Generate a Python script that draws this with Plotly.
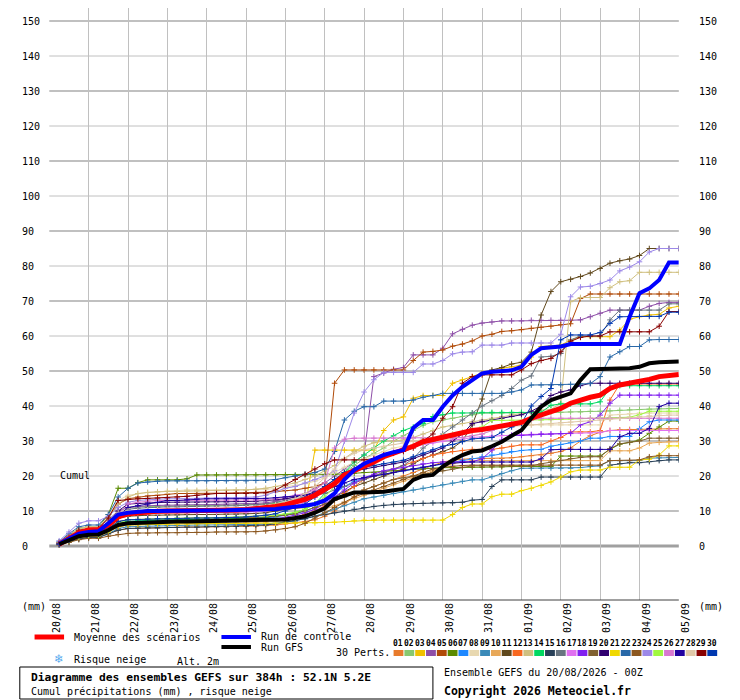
import plotly.graph_objects as go

# Diagramme des ensembles GEFS - cumul precipitations (mm), pas de 6h sur 384h
hours = list(range(6, 385, 6))

day_ticks = list(range(0, 385, 24))
dates = ["20/08", "21/08", "22/08", "23/08", "24/08", "25/08", "26/08", "27/08", "28/08",
         "29/08", "30/08", "31/08", "01/09", "02/09", "03/09", "04/09", "05/09"]
y_labels = [0, 10, 20, 30, 40, 50, 60, 70, 80, 90, 100, 110, 120, 130, 140, 150]

# moyenne des scenarios
mean_run = [0.5, 2, 3.8, 4.6, 4.7, 6, 8.3, 9.2,
            9.5, 9.7, 9.9, 10, 10, 10.1, 10.1, 10.2,
            10.2, 10.3, 10.3, 10.4, 10.6, 10.9, 11.3, 11.8,
            12.5, 13.3, 14.5, 16, 17.8, 20.3, 21.5, 22.5,
            24, 25.5, 26.5, 27.4, 28.5, 29.8, 30.5, 31.2,
            31.8, 32.5, 33, 33.3, 33.8, 34.3, 34.8, 35.3,
            36.5, 37.5, 38.4, 39.3, 40.8, 41.8, 42.5, 43.1,
            45, 46, 46.5, 46.9, 47.6, 48.4, 48.8, 49]

# run de controle
control_run = [0.6, 2, 3.5, 4, 4.2, 6.5, 9, 9.5,
               9.8, 10, 10, 10, 10.1, 10.1, 10.2, 10.2,
               10.2, 10.2, 10.3, 10.3, 10.4, 10.5, 10.6, 11,
               11.2, 11.5, 12, 13, 15, 19, 21.7, 23.5,
               24.8, 26, 26.8, 27.4, 33.7, 36, 36, 39.8,
               43, 45.5, 47.4, 49.3, 49.8, 50, 50.2, 51.2,
               54.6, 56.5, 56.8, 57, 57.7, 57.7, 57.7, 57.7,
               57.7, 57.7, 65.5, 72.2, 73.6, 76, 81, 81]

# run GFS
gfs_run = [0.5, 1.5, 2.8, 3.2, 3.3, 4.5, 6, 6.5,
           6.6, 6.8, 7, 7, 7, 7, 7, 7.1,
           7.1, 7.2, 7.3, 7.4, 7.4, 7.4, 7.5, 7.6,
           8, 8.5, 9.5, 10.8, 13.4, 14.5, 15.3, 15.3,
           15.3, 15.5, 15.9, 16.3, 18.9, 20, 20.3, 22.7,
           24.5, 26, 27, 27.3, 28.5, 29.8, 31.5, 33.1,
           36.5, 39.8, 41.7, 42.6, 43.6, 47.4, 50.5, 50.6,
           50.7, 50.8, 50.8, 51.2, 52.2, 52.5, 52.7, 52.7]

# 30 perturbations
m01 = [0.5, 1.3, 2.2, 2.6, 2.6, 3.5, 4.5, 5,
       5.1, 5.2, 5.2, 5.3, 5.3, 5.4, 5.4, 5.5,
       5.5, 5.5, 5.6, 5.6, 5.7, 5.8, 6, 6.3,
       6.6, 7, 7.5, 8.5, 10, 12, 14, 16,
       17, 18, 19, 20, 21, 22, 23, 24,
       24.5, 24.8, 25, 25, 25, 25, 25.2, 25.5,
       25.8, 26, 26.5, 27, 28, 30, 31.5, 32.5,
       33, 33.2, 33.3, 33.4, 33.5, 33.5, 33.5, 33.5]
m02 = [0.8, 2.2, 4, 4.5, 4.5, 7, 10, 11,
       11.2, 11.3, 11.4, 11.5, 11.5, 11.5, 11.6, 11.6,
       11.6, 11.7, 11.7, 11.8, 11.9, 12, 12.2, 12.5,
       13, 13.5, 14.5, 16, 18.5, 21, 23, 25,
       26.5, 28, 30, 31.5, 33, 34.5, 35.5, 36,
       36.5, 37, 37.5, 38, 38, 38, 38, 38,
       38, 38, 38.2, 38.2, 38.3, 38.3, 38.5, 38.5,
       38.6, 38.8, 38.9, 39, 39.1, 39.2, 39.3, 39.3]
m03 = [0.7, 2, 3.5, 4, 4, 6, 8.5, 9,
       9.2, 9.3, 9.4, 9.5, 9.5, 9.5, 9.6, 9.6,
       9.6, 9.7, 9.7, 9.8, 9.8, 10, 10.2, 10.5,
       10.8, 11, 27.4, 27.4, 27.4, 27.4, 27.4, 27.4,
       27.4, 33, 36, 36.9, 42.2, 43, 43, 43,
       46.5, 47.5, 48.4, 49.4, 50, 50.8, 51.2, 51.7,
       54, 57, 57.2, 57.4, 58.8, 59.8, 59.8, 59.8,
       59.8, 61.7, 64.8, 65.5, 66, 66.2, 68, 68.5]
m04 = [1, 3, 5, 5.5, 5.6, 7.5, 10, 11,
       11.3, 11.5, 11.6, 11.7, 11.7, 11.8, 11.8, 11.8,
       11.9, 11.9, 12, 12, 12.1, 12.3, 12.8, 13.5,
       14, 15, 16.5, 18, 20, 22, 24, 26,
       48.4, 49.4, 50.5, 51, 54.6, 54.6, 54.6, 56.5,
       60.6, 61.9, 63.1, 63.7, 64, 64.3, 64.3, 64.3,
       64.5, 64.5, 64.5, 64.5, 64.5, 64.6, 65.5, 66.5,
       67.4, 67.4, 67.4, 67.4, 68.5, 69.3, 69.6, 69.6]
m05 = [1, 3, 5, 5.5, 5.5, 8, 12, 13.5,
       14, 14.3, 14.5, 14.8, 15, 15, 15, 15,
       15, 15, 15.1, 15.2, 15.3, 15.3, 15.5, 15.8,
       16, 16.5, 17, 18, 46.5, 50.3, 50.3, 50.3,
       50.3, 50.3, 50.3, 50.3, 53, 55.4, 55.6, 56,
       57.1, 57.7, 58.6, 60, 60.5, 61.3, 61.5, 61.8,
       62.2, 62.5, 62.8, 63.2, 63.5, 70.7, 72, 72,
       72, 72, 72, 72, 72, 72, 72, 72]
m06 = [1, 3, 5, 5.5, 5.5, 9, 16.5, 16.5,
       18.1, 18.9, 18.9, 18.9, 18.9, 19.2, 20.3, 20.3,
       20.3, 20.3, 20.3, 20.3, 20.3, 20.3, 20.3, 20.3,
       20.3, 20.3, 20.3, 20.3, 20.5, 20.6, 20.8, 21,
       21, 21.2, 21.5, 21.8, 22, 22, 22.2, 22.4,
       22.4, 22.4, 22.5, 22.5, 22.6, 22.6, 22.7, 22.7,
       22.7, 22.7, 22.7, 25.7, 25.7, 25.7, 25.7, 25.7,
       27.6, 29.1, 29.6, 30.3, 32.2, 34, 35.7, 35.7]
m07 = [0.5, 1.5, 2.5, 3, 3, 4.5, 6, 7,
       7.2, 7.3, 7.4, 7.5, 7.5, 7.6, 7.6, 7.6,
       7.6, 7.7, 7.7, 7.8, 7.9, 8, 8.3, 8.8,
       9.2, 10, 11, 13, 15, 17, 18.5, 19.5,
       20, 20.5, 21, 21.5, 22, 22.5, 23, 23.5,
       24, 24.5, 25, 25.5, 26, 26.5, 27, 27.3,
       27.5, 27.6, 28.5, 29, 29.5, 30, 30.8, 30.8,
       31.3, 31.3, 31.3, 33.5, 35.5, 36, 36, 36]
m08 = [1, 3, 5, 5.5, 5.5, 8.5, 13, 14.5,
       15, 15.3, 15.5, 15.7, 15.8, 16, 16, 16,
       16, 16, 16, 16, 16.1, 16.2, 16.4, 16.8,
       17.2, 17.8, 18.5, 19.5, 21, 22.5, 24, 25,
       26, 27, 28, 28.5, 29, 29.5, 30, 30.3,
       30.6, 31, 31.5, 32, 33, 33.8, 34.2, 34.6,
       34.6, 34.6, 34.6, 34.6, 34.6, 34.6, 34.6, 34.6,
       37.4, 37.6, 37.8, 38, 38, 38, 38, 38]
m09 = [0.4, 1.2, 2, 2.5, 2.5, 3.5, 5, 5.5,
       5.6, 5.7, 5.8, 5.8, 5.9, 5.9, 6, 6,
       6, 6, 6.1, 6.1, 6.2, 6.3, 6.5, 6.8,
       7.2, 7.8, 8.5, 9.5, 10.5, 11.5, 12.5, 13.5,
       14, 14.5, 15, 15.5, 16, 16.5, 17, 17.5,
       18, 18.5, 18.9, 18.9, 19.8, 20.7, 21.5, 22.2,
       22.2, 22.2, 22.2, 22.2, 22.2, 22.4, 22.7, 22.9,
       24.4, 24.4, 24.4, 24.4, 25.1, 25.2, 25.3, 25.3]
m10 = [0.5, 1.4, 2.3, 2.8, 2.8, 4, 5.5, 6,
       6.1, 6.2, 6.2, 6.3, 6.3, 6.4, 6.4, 6.5,
       6.5, 6.5, 6.6, 6.6, 6.7, 6.8, 7, 7.3,
       7.8, 8.5, 9.5, 10.5, 11.5, 12.5, 13.5, 14.5,
       15.5, 16.5, 17.5, 18.5, 19.5, 20.5, 21.5, 22.5,
       23.5, 24, 24.4, 24.4, 24.4, 24.4, 24.4, 24.4,
       24.4, 24.4, 24.4, 24.4, 24.4, 24.4, 24.4, 24.4,
       27.2, 27.2, 27.2, 28, 29.4, 29.6, 29.8, 29.8]
m11 = [0.8, 2.5, 4, 4.5, 4.5, 6, 8, 8.5,
       8.7, 8.8, 8.8, 8.9, 8.9, 9, 9, 9,
       9, 9.1, 9.1, 9.2, 9.3, 9.5, 10, 10.5,
       11, 11.5, 12, 13, 14, 15.5, 17, 18,
       19, 20, 21, 22, 23.5, 25, 26, 27,
       28, 30, 34.6, 42, 50.3, 51, 52, 52.5,
       55.4, 66, 72.7, 75.5, 76.2, 77, 78, 79.3,
       80.8, 81.5, 82, 83, 85, 85, 85, 85]
m12 = [0.5, 1.5, 2.5, 3, 3, 4.5, 6, 6.5,
       6.6, 6.7, 6.8, 6.8, 6.9, 6.9, 7, 7,
       7, 7, 7, 7, 7.1, 7.2, 7.4, 7.8,
       8.2, 9, 10, 11.5, 13, 15, 17, 19,
       20, 21, 22, 23, 24, 25, 26, 26.5,
       27, 27.3, 27.6, 27.6, 27.6, 28, 28.5, 28.9,
       28.9, 28.9, 30, 31, 32.6, 32.6, 32.6, 33,
       41.7, 46.3, 46.3, 46.3, 46.3, 46.3, 46.3, 46.3]
m13 = [1, 3, 5, 5.5, 5.5, 8, 12, 14,
       15, 15.3, 15.5, 15.6, 15.6, 15.7, 15.7, 15.8,
       15.8, 15.9, 16, 16, 16.2, 16.5, 17, 17.5,
       18, 19, 20, 21.5, 23, 25, 27, 28.5,
       29.5, 30, 30, 30.3, 31, 32, 33, 34,
       34.5, 35, 35.5, 36, 36.5, 37, 37.5, 38,
       38.5, 38.8, 39, 40.8, 69.8, 71, 71, 71,
       73.8, 75.5, 75.8, 78.2, 78.2, 78.2, 78.2, 78.2]
m14 = [0.6, 1.8, 3, 3.5, 3.5, 5, 6.5, 7,
       7.2, 7.3, 7.4, 7.5, 7.5, 7.6, 7.6, 7.7,
       7.7, 7.8, 7.8, 7.9, 8, 8.2, 8.5, 9,
       9.5, 10.5, 12, 15, 18, 21, 24, 26,
       28, 30, 31.5, 33, 34, 35, 37, 37.5,
       38, 38, 38, 38.2, 38.2, 38.2, 38.2, 38.2,
       38.2, 38.2, 40.2, 40.6, 40.6, 40.6, 40.6, 41.2,
       45.1, 45.8, 45.8, 45.8, 45.8, 45.8, 45.8, 45.8]
m15 = [0.4, 1.2, 2, 2.4, 2.4, 3.5, 4.5, 5,
       5.1, 5.2, 5.2, 5.3, 5.3, 5.4, 5.4, 5.5,
       5.5, 5.5, 5.6, 5.7, 5.8, 6, 6.3, 6.8,
       7.2, 7.8, 8.5, 9, 9.5, 10, 10.5, 11,
       11.3, 11.6, 11.9, 12, 12.1, 12.2, 12.3, 12.3,
       12.3, 12.5, 13.1, 13.3, 17, 18.9, 18.9, 18.9,
       18.9, 19.7, 19.7, 19.7, 19.7, 19.7, 19.7, 19.7,
       23.1, 23.5, 23.8, 23.8, 24.1, 24.4, 24.6, 24.6]
m16 = [0.5, 1.5, 3, 3.5, 3.5, 5.5, 8.5, 10.5,
       10.8, 11, 11.1, 11.2, 11.2, 11.3, 11.3, 11.4,
       11.4, 11.5, 11.5, 11.6, 11.7, 12, 12.5, 13,
       13.5, 14, 14.5, 15, 16, 17, 18, 19,
       20, 21, 22, 23, 25, 28, 30, 32,
       34, 36, 38, 40, 41.5, 43, 45, 47.4,
       48.6, 54, 54.2, 55, 58.9, 60, 60, 60,
       64.6, 67.4, 67.4, 67.4, 67.4, 67.4, 69.2, 69.2]
m17 = [0.6, 1.8, 3, 3.5, 3.5, 5.5, 8, 9,
       9.2, 9.3, 9.4, 9.5, 9.5, 9.5, 9.5, 9.6,
       9.6, 9.6, 9.7, 9.7, 9.8, 10, 10.5, 11,
       11.5, 12.5, 14, 16, 18, 20, 22, 24,
       25, 26, 27, 28, 28.5, 29, 29.5, 30,
       30.3, 30.5, 31, 31.2, 31.4, 31.6, 31.7, 31.8,
       31.9, 32, 32, 32, 32.1, 32.2, 32.3, 32.4,
       33, 33, 33, 33, 33, 33, 33, 33]
m18 = [0.5, 1.5, 2.5, 3, 3, 4.5, 6, 6.5,
       6.6, 6.7, 6.8, 6.8, 6.9, 6.9, 7, 7,
       7, 7.1, 7.1, 7.2, 7.3, 7.5, 7.8, 8.2,
       8.8, 9.5, 10.5, 12, 14, 16, 18, 19.5,
       20.5, 21.5, 22, 22.5, 23, 23.5, 23.8, 24,
       24, 24.1, 24.1, 24.9, 27.4, 30.3, 31.6, 31.6,
       31.8, 32, 32, 32.1, 32.2, 34.6, 35.5, 37.4,
       40.8, 43.1, 43.1, 43.1, 43.1, 43.1, 43.1, 43.1]
m19 = [0.6, 1.7, 2.8, 3.3, 3.3, 5, 7, 7.5,
       7.6, 7.7, 7.8, 7.8, 7.9, 7.9, 8, 8,
       8, 8, 8.1, 8.1, 8.2, 8.3, 8.5, 8.8,
       9.2, 10, 11, 12, 13, 14, 15, 16,
       17, 18, 19, 19.5, 20, 20.5, 21, 21.5,
       22, 22.5, 22.9, 22.9, 22.9, 22.9, 22.9, 22.9,
       22.9, 23.5, 24, 24.5, 25, 25.3, 25.5, 25.5,
       27.8, 29.2, 29.6, 30, 30.8, 30.8, 30.8, 30.8]
m20 = [0.7, 2, 3.5, 4, 4, 6.5, 10, 12,
       12.2, 12.3, 12.4, 12.5, 12.5, 12.5, 12.5, 12.6,
       12.6, 12.6, 12.7, 12.7, 12.8, 12.9, 13.2, 13.5,
       14, 14.5, 15.5, 17, 19, 20.5, 21.5, 22,
       22.5, 23, 23.5, 24, 25, 26, 27, 28,
       30, 32, 35, 35.5, 36, 36.5, 37, 37.5,
       38.5, 40, 43, 44, 44.6, 45.8, 46.5, 46.5,
       46.5, 46.5, 46.5, 46.5, 46.5, 46.5, 46.5, 46.5]
m21 = [0.5, 1.4, 2.4, 2.9, 2.9, 4, 5.5, 6,
       6.1, 6.2, 6.2, 6.3, 6.3, 6.3, 6.4, 6.4,
       6.4, 6.4, 6.5, 6.5, 6.5, 6.5, 6.5, 6.5,
       6.5, 6.5, 6.6, 6.7, 6.8, 7, 7.2, 7.4,
       7.4, 7.4, 7.4, 7.4, 7.4, 7.4, 7.4, 7.4,
       9, 11, 12, 12, 14.1, 14.8, 14.8, 15.8,
       16.5, 17.3, 18.3, 19.7, 21.2, 21.7, 21.7, 21.7,
       22.5, 22.5, 22.5, 24.6, 24.8, 26, 28.6, 28.6]
m22 = [1.2, 3.5, 5.5, 6, 6, 9, 14, 16.5,
       18, 18.3, 18.5, 18.6, 18.6, 18.6, 18.6, 18.6,
       18.6, 18.6, 18.6, 18.6, 18.7, 18.8, 19, 19.5,
       20, 20.5, 21, 22, 27, 36, 38.5, 39.8,
       39.8, 41.4, 41.4, 41.4, 41.7, 42.5, 43, 43.6,
       43.6, 43.6, 43.6, 43.6, 43.6, 43.6, 44, 44.6,
       46, 46, 46, 46, 46.2, 46.3, 46.4, 48.4,
       54, 55.5, 57, 57, 58.9, 59, 59, 59]
m23 = [0.3, 1, 1.8, 2.2, 2.2, 2.8, 3.3, 3.6,
       3.7, 3.7, 3.8, 3.8, 3.8, 3.9, 3.9, 3.9,
       4, 4, 4, 4, 4.1, 4.3, 4.6, 5,
       5.5, 6.5, 8, 9.5, 11, 12.5, 14, 15,
       16, 17, 18, 19, 20, 21, 22, 22.5,
       22.8, 23, 23.1, 23.1, 23.1, 23.1, 23.1, 23.1,
       23.1, 23.1, 23.1, 23.1, 23.1, 23.1, 23.1, 23.1,
       24.4, 24.4, 24.4, 24.6, 25.5, 25.8, 25.8, 25.8]
m24 = [1.5, 4, 6.5, 7.2, 7.2, 8.5, 11, 12.5,
       13, 13.2, 13.4, 13.5, 13.5, 13.6, 13.6, 13.7,
       13.7, 13.8, 13.8, 13.9, 14, 14.5, 15.5, 16.5,
       17, 18, 19, 20, 21.5, 30, 38, 44,
       47.5, 49.6, 49.6, 49.6, 49.6, 52, 52, 53,
       54.9, 55.4, 55.5, 57.4, 57.4, 57.4, 58, 58,
       58, 58, 58, 60.5, 71.2, 74, 74.2, 75,
       76, 78.6, 79.7, 81.2, 84, 85, 85, 85]
m25 = [0.5, 1.5, 2.5, 3, 3, 4.5, 6.5, 7.5,
       7.6, 7.7, 7.8, 7.9, 8, 8, 8, 8.1,
       8.1, 8.2, 8.2, 8.3, 8.4, 8.5, 8.8, 9.2,
       9.6, 10.5, 12, 14, 17, 20, 22, 23.5,
       24.5, 25.5, 26.5, 27.5, 28.5, 29.5, 30.5, 31.5,
       32, 32.5, 33, 34, 35.9, 35.9, 35.9, 35.9,
       35.9, 36, 36.1, 36.2, 36.3, 36.4, 36.5, 36.5,
       36.5, 36.6, 36.8, 37.5, 38.5, 38.5, 38.5, 38.5]
m26 = [0.7, 2, 3.5, 4, 4, 6, 9, 12,
       12.5, 12.8, 13, 13, 13, 13, 13, 13,
       13, 13, 13, 13, 13.1, 13.2, 13.5, 14,
       14.5, 15, 16, 18, 28, 30.5, 30.8, 30.8,
       30.8, 30.8, 30.8, 30.8, 30.8, 30.8, 30.8, 30.8,
       30.8, 31, 31.5, 32, 33, 34, 35, 35.5,
       36, 36.5, 36.5, 36.5, 36.5, 36.5, 36.5, 36.5,
       36.5, 36.5, 36.5, 36.5, 36.5, 36.5, 36.5, 36.5]
m27 = [0.5, 1.6, 3, 3.5, 3.5, 5.5, 8.5, 11,
       11.5, 12, 12.5, 13, 13, 13.2, 13.4, 13.5,
       13.5, 13.5, 13.5, 13.5, 13.5, 13.6, 13.8, 14,
       14.2, 14.5, 15, 16, 17, 18, 19, 19.5,
       20, 20.5, 21, 21.5, 22, 22.5, 23, 23.5,
       23.7, 23.9, 24, 24, 24, 24, 24, 24,
       24, 24.9, 27.5, 27.6, 27.6, 27.6, 27.6, 27.6,
       27.6, 31.2, 32.2, 32.2, 33.6, 39.8, 40.8, 40.8]
m28 = [0.8, 2.5, 4, 4.8, 4.8, 7, 9.5, 10,
       10.2, 10.3, 10.4, 10.5, 10.5, 10.6, 10.6, 10.7,
       10.7, 10.8, 10.8, 10.9, 11, 11.3, 11.8, 12.5,
       13.5, 15, 17, 19.5, 22, 25, 26.5, 27.5,
       28, 28.5, 29, 29.5, 30, 30.5, 31, 31.5,
       32, 32.5, 33, 33.5, 33.8, 34, 34.2, 34.4,
       34.6, 34.8, 35, 35.2, 35.4, 35.6, 35.8, 36,
       36.2, 36.5, 36.8, 37, 37.2, 37.4, 37.4, 37.4]
m29 = [0.8, 2.5, 4.5, 5, 5, 8, 13, 13.3,
       13.5, 13.6, 13.7, 13.8, 14, 14.2, 14.5, 14.8,
       15, 15, 15, 15, 15, 15.2, 16, 17.4,
       19, 20.5, 22, 23.5, 24.6, 24.6, 24.6, 24.6,
       25, 26, 26.5, 27, 28, 30, 32, 36.5,
       39.8, 46.5, 48.4, 48.9, 48.9, 48.9, 48.9, 50.3,
       52.1, 53, 53.6, 55.5, 58.5, 59.6, 60, 60,
       61.2, 61.2, 61.2, 61.2, 61.2, 62.8, 67, 67]
m30 = [0.6, 1.8, 3, 3.5, 3.5, 5, 7, 7.5,
       7.6, 7.7, 7.8, 7.8, 7.9, 7.9, 8, 8,
       8, 8.1, 8.2, 8.3, 8.5, 8.8, 9.2, 10,
       11, 12, 14, 17, 19, 21, 22, 22.5,
       23, 23.5, 24, 24.5, 25.5, 26.5, 27.5, 28.5,
       29, 29.8, 30.6, 30.8, 31, 32.5, 34, 35,
       40, 42.7, 45, 58.9, 60.3, 60.3, 60.3, 61,
       63.6, 65.5, 65.6, 65.6, 65.6, 65.6, 66.8, 66.8]

pert_colors = ["#e87b2c", "#88c86e", "#f0c000", "#8e4fa8", "#b04a08", "#5a8a00",
               "#1e88ff", "#e8d8b0", "#3a8ab8", "#e8a858", "#60481c", "#f86820",
               "#d0c080", "#00d860", "#284058", "#687480", "#e070f0", "#8020f0",
               "#806030", "#300070", "#f0d800", "#2868a8", "#8c5820", "#9c88e8",
               "#a0f840", "#d878d0", "#2000a0", "#e0c8a8", "#880000", "#0038b0"]

members = [m01, m02, m03, m04, m05, m06, m07, m08, m09, m10,
           m11, m12, m13, m14, m15, m16, m17, m18, m19, m20,
           m21, m22, m23, m24, m25, m26, m27, m28, m29, m30]

# la page a une marge de 8px : on dessine sur 732x692
OFF = 8
W = 740 - OFF
H = 700 - OFF
FONT = "DejaVu Sans Mono"


# pixel (image de reference) -> paper
def px(x):
    return (x - OFF) / W


def py(y):
    return 1 - (y - OFF) / H


fig = go.Figure()

# perturbations
for k in range(len(members)):
    c = pert_colors[k]
    fig.add_trace(go.Scatter(x=hours, y=members[k], mode="lines+markers",
                             line=dict(color=c, width=1),
                             marker=dict(symbol="cross-thin", size=4, line=dict(color=c, width=1)),
                             hoverinfo="skip"))

fig.add_trace(go.Scatter(x=hours, y=mean_run, mode="lines", line=dict(color="#ff0000", width=5)))
fig.add_trace(go.Scatter(x=hours, y=control_run, mode="lines", line=dict(color="#0000ff", width=4)))
fig.add_trace(go.Scatter(x=hours, y=gfs_run, mode="lines", line=dict(color="#000000", width=4)))

shapes = []
# grille horizontale (traits epais aux dizaines impaires)
for v in y_labels[1:]:
    w = 2 if (v // 10) % 2 == 1 else 1
    shapes.append(dict(type="line", layer="below", xref="paper", yref="y",
                       x0=px(50), x1=px(690), y0=v, y1=v,
                       line=dict(color="#c0c0c0", width=w)))
shapes.append(dict(type="line", layer="below", xref="paper", yref="y",
                   x0=px(50), x1=px(690), y0=0, y1=0,
                   line=dict(color="#a0a0a0", width=3)))
shapes.append(dict(type="line", xref="paper", yref="paper",
                   x0=px(50), x1=px(690), y0=py(600), y1=py(600),
                   line=dict(color="#404040", width=1)))

# legende
shapes.append(dict(type="line", xref="paper", yref="paper", x0=px(35), x1=px(65),
                   y0=py(637), y1=py(637), line=dict(color="#ff0000", width=5)))
shapes.append(dict(type="line", xref="paper", yref="paper", x0=px(225), x1=px(255),
                   y0=py(637), y1=py(637), line=dict(color="#0000ff", width=4)))
shapes.append(dict(type="line", xref="paper", yref="paper", x0=px(225), x1=px(255),
                   y0=py(647), y1=py(647), line=dict(color="#000000", width=4)))
for k in range(30):
    x0 = 400 + 11 * k
    shapes.append(dict(type="rect", xref="paper", yref="paper",
                       x0=px(x0), x1=px(x0 + 10), y0=py(656), y1=py(650),
                       line=dict(width=0), fillcolor=pert_colors[k]))
shapes.append(dict(type="rect", xref="paper", yref="paper",
                   x0=px(20), x1=px(440), y0=py(699), y1=py(667),
                   line=dict(color="black", width=1)))

annotations = []
for v in y_labels:
    annotations.append(dict(x=px(20), y=v, xref="paper", yref="y", text=str(v),
                            showarrow=False, xanchor="left", yanchor="middle",
                            font=dict(family=FONT, size=10, color="black")))
    annotations.append(dict(x=px(708), y=v, xref="paper", yref="y", text=str(v),
                            showarrow=False, xanchor="left", yanchor="middle",
                            font=dict(family=FONT, size=10, color="black")))


def label(x, y, text, size=10, anchor="left", color="black"):
    annotations.append(dict(x=px(x), y=py(y), xref="paper", yref="paper", text=text,
                            showarrow=False, xanchor=anchor, yanchor="middle",
                            font=dict(family=FONT, size=size, color=color)))


label(20, 606, "(mm)")
label(708, 606, "(mm)")
label(59, 475, "Cumul")
label(73, 637, "Moyenne des scénarios")
label(263, 636, "Run de contrôle")
label(263, 647, "Run GFS")
label(53, 658, "❄", size=13, color="#55aaee")
label(73, 659, "Risque neige")
label(178, 661, "Alt. 2m")
label(339, 652, "30 Perts.")
for k in range(30):
    label(400 + 11 * k + 5, 643, "<b>%02d</b>" % (k + 1), size=8, anchor="center")
label(29, 677, "<b>Diagramme des ensembles GEFS sur 384h : 52.1N 5.2E</b>", size=11.3)
label(29, 691, "Cumul précipitations (mm) , risque neige")
label(449, 672, "Ensemble GEFS du 20/08/2026 - 00Z")
label(449, 691, "<b>Copyright 2026 Meteociel.fr</b>", size=11.5)

fig.update_layout(
    width=W, height=H,
    margin=dict(l=0, r=0, t=0, b=0),
    paper_bgcolor="white", plot_bgcolor="white",
    showlegend=False,
    shapes=shapes,
    annotations=annotations,
    xaxis=dict(domain=[px(50), px(690)], range=[0, 384],
               tickvals=day_ticks, ticktext=dates, tickangle=-90,
               ticklabelshift=7, ticklabelstandoff=0,
               showgrid=True, gridcolor="#c0c0c0", gridwidth=1,
               zeroline=False, showline=False, ticks="",
               tickfont=dict(family=FONT, size=10, color="black")),
    yaxis=dict(domain=[py(600), 1], range=[-15.43, (546 - OFF) / 3.5],
               showgrid=False, zeroline=False, showticklabels=False, ticks=""),
)

fig.write_html("out.html")
